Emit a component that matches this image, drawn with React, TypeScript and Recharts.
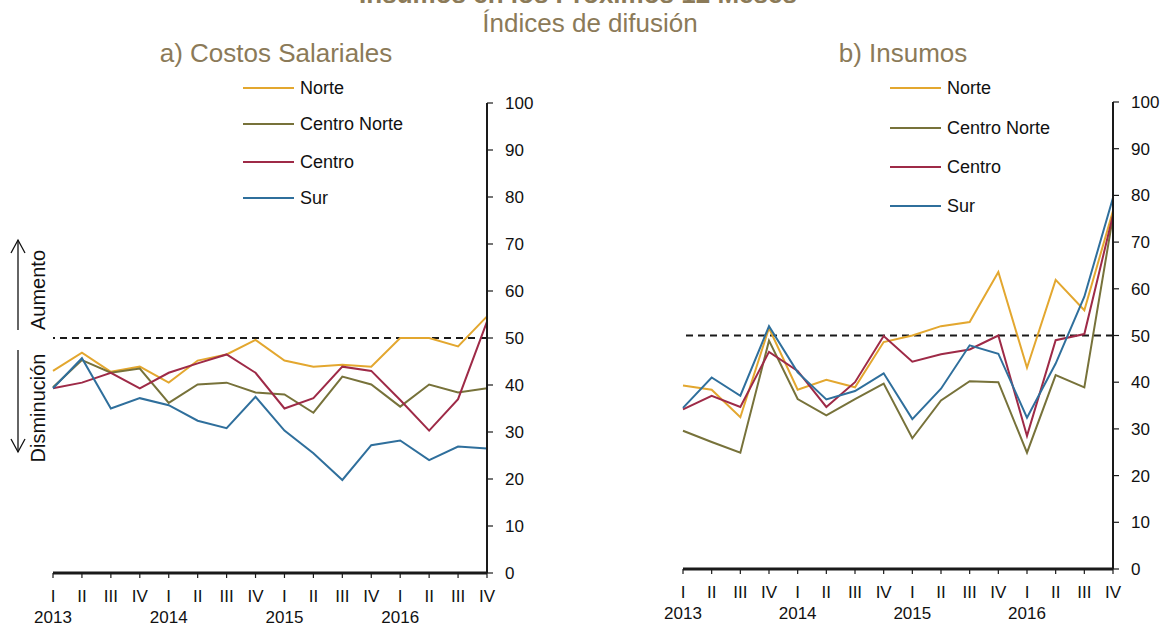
import React from 'react';
import { LineChart, Line, XAxis, YAxis, ReferenceLine } from 'recharts';

const quarters = ['I', 'II', 'III', 'IV'];
const years = ['2013', '2014', '2015', '2016'];
const categories = years.flatMap((y) => quarters.map((q) => `${q} ${y}`));
const yTicks = [0, 10, 20, 30, 40, 50, 60, 70, 80, 90, 100];

const seriesNames = ['Norte', 'Centro Norte', 'Centro', 'Sur'];
const seriesColors = ['#E3A72F', '#77723A', '#9E2A47', '#2F6F9C'];

const salarialesNorte = [43.0, 46.9, 42.8, 43.9, 40.5, 45.2, 46.5, 49.6, 45.2, 43.9, 44.3, 43.9, 50.0, 50.0, 48.2, 54.6];
const salarialesCentroNorte = [39.5, 45.3, 42.6, 43.5, 36.2, 40.1, 40.5, 38.4, 38.0, 34.1, 41.8, 40.1, 35.4, 40.1, 38.4, 39.3];
const salarialesCentro = [39.3, 40.5, 42.6, 39.3, 42.6, 44.6, 46.5, 42.6, 35.0, 37.2, 43.9, 43.0, 36.8, 30.3, 37.0, 53.5];
const salarialesSur = [39.3, 45.7, 35.0, 37.2, 35.7, 32.4, 30.8, 37.5, 30.3, 25.5, 19.8, 27.2, 28.2, 24.0, 26.9, 26.5];

const insumosNorte = [39.3, 38.4, 32.5, 51.6, 38.4, 40.5, 38.9, 48.6, 50.0, 52.0, 52.9, 63.6, 43.1, 61.9, 55.4, 76.7];
const insumosCentroNorte = [29.6, 27.2, 24.9, 48.9, 36.4, 32.9, 36.4, 39.7, 28.0, 36.1, 40.2, 40.0, 24.9, 41.5, 38.9, 75.5];
const insumosCentro = [34.2, 37.1, 34.7, 46.5, 42.4, 34.7, 40.0, 49.9, 44.4, 46.0, 47.0, 50.0, 28.5, 49.0, 50.3, 75.8];
const insumosSur = [34.5, 41.0, 37.1, 52.0, 42.1, 36.3, 38.1, 41.9, 32.1, 38.6, 47.9, 46.1, 32.4, 44.0, 58.3, 79.5];

const threshold = 50;

const buildData = (a: number[], b: number[], c: number[], d: number[]) =>
  categories.map((cat, i) => ({ cat, s0: a[i], s1: b[i], s2: c[i], s3: d[i] }));

const dataSalariales = buildData(salarialesNorte, salarialesCentroNorte, salarialesCentro, salarialesSur);
const dataInsumos = buildData(insumosNorte, insumosCentroNorte, insumosCentro, insumosSur);

const FONT = '"Liberation Sans", Arial, sans-serif';
const TITLE_COLOR = '#8B7A58';

const XTick = (props: any) => {
  const { x, y, index } = props;
  const q = quarters[index % 4];
  const yr = index % 4 === 0 ? years[Math.floor(index / 4)] : null;
  return (
    <g>
      <text x={x} y={y + 24} textAnchor="middle" fontSize={17} fontFamily={FONT} fill="#111">
        {q}
      </text>
      {yr && (
        <text x={x} y={y + 45} textAnchor="middle" fontSize={17} fontFamily={FONT} fill="#111">
          {yr}
        </text>
      )}
    </g>
  );
};

const Panel = ({ data, margin, yWidth }: { data: any[]; margin: any; yWidth: number }) => (
  <LineChart width={583} height={626} data={data} margin={margin}>
    <XAxis
      dataKey="cat"
      interval={0}
      height={50}
      tickSize={5}
      tickMargin={0}
      tick={<XTick />}
      axisLine={{ stroke: '#1a1a1a', strokeWidth: 3 }}
      tickLine={{ stroke: '#1a1a1a', strokeWidth: 1.2 }}
    />
    <YAxis
      orientation="right"
      domain={[0, 100]}
      ticks={yTicks}
      width={yWidth}
      tickSize={6}
      tickMargin={12}
      axisLine={{ stroke: '#1a1a1a', strokeWidth: 2 }}
      tickLine={{ stroke: '#1a1a1a', strokeWidth: 1.2 }}
      tick={{ fontSize: 17, fontFamily: FONT, fill: '#111' }}
    />
    <ReferenceLine y={threshold} stroke="#1a1a1a" strokeWidth={1.8} strokeDasharray="7 5" />
    {['s0', 's1', 's2', 's3'].map((k, i) => (
      <Line
        key={k}
        dataKey={k}
        name={seriesNames[i]}
        stroke={seriesColors[i]}
        strokeWidth={2}
        dot={false}
        isAnimationActive={false}
      />
    ))}
  </LineChart>
);

const Legend = ({ x, ys }: { x: number; ys: number[] }) => (
  <g>
    {seriesNames.map((n, i) => (
      <g key={n}>
        <line x1={x} x2={x + 51} y1={ys[i]} y2={ys[i]} stroke={seriesColors[i]} strokeWidth={2} />
        <text x={x + 57} y={ys[i] + 6} fontSize={18} fontFamily={FONT} fill="#111">
          {n}
        </text>
      </g>
    ))}
  </g>
);

export default function App() {
  return (
    <div style={{ position: 'absolute', left: 0, top: 0, width: 1166, height: 626, background: '#fff', overflow: 'hidden' }}>
      <div style={{ position: 'absolute', left: 0, top: 0 }}>
        <Panel data={dataSalariales} margin={{ top: 103, right: 36, left: 53, bottom: 3 }} yWidth={60} />
      </div>
      <div style={{ position: 'absolute', left: 583, top: 0 }}>
        <Panel data={dataInsumos} margin={{ top: 102, right: 0, left: 100, bottom: 7 }} yWidth={53} />
      </div>
      <svg width={1166} height={626} style={{ position: 'absolute', left: 0, top: 0, pointerEvents: 'none' }}>
        <text x={578} y={3} textAnchor="middle" fontSize={26} fontWeight="bold" fontFamily={FONT} fill={TITLE_COLOR}>
          Insumos en los Próximos 12 Meses
        </text>
        <text x={590} y={32} textAnchor="middle" fontSize={26} fontFamily={FONT} fill={TITLE_COLOR}>
          Índices de difusión
        </text>
        <text x={276} y={62} textAnchor="middle" fontSize={26} fontFamily={FONT} fill={TITLE_COLOR}>
          a) Costos Salariales
        </text>
        <text x={903} y={62} textAnchor="middle" fontSize={26} fontFamily={FONT} fill={TITLE_COLOR}>
          b) Insumos
        </text>
        <Legend x={243} ys={[88, 124, 162, 198]} />
        <Legend x={890} ys={[88, 128, 167, 206]} />
        <g stroke="#111" strokeWidth={1.3} fill="none">
          <line x1={18} y1={330} x2={18} y2={240} />
          <polyline points="11,253 18,240 25,253" />
          <line x1={18} y1={350} x2={18} y2={452} />
          <polyline points="11,439 18,452 25,439" />
        </g>
        <text transform="translate(45,290) rotate(-90)" textAnchor="middle" fontSize={20} fontFamily={FONT} fill="#111">
          Aumento
        </text>
        <text transform="translate(45,408) rotate(-90)" textAnchor="middle" fontSize={20} fontFamily={FONT} fill="#111">
          Disminución
        </text>
      </svg>
    </div>
  );
}
